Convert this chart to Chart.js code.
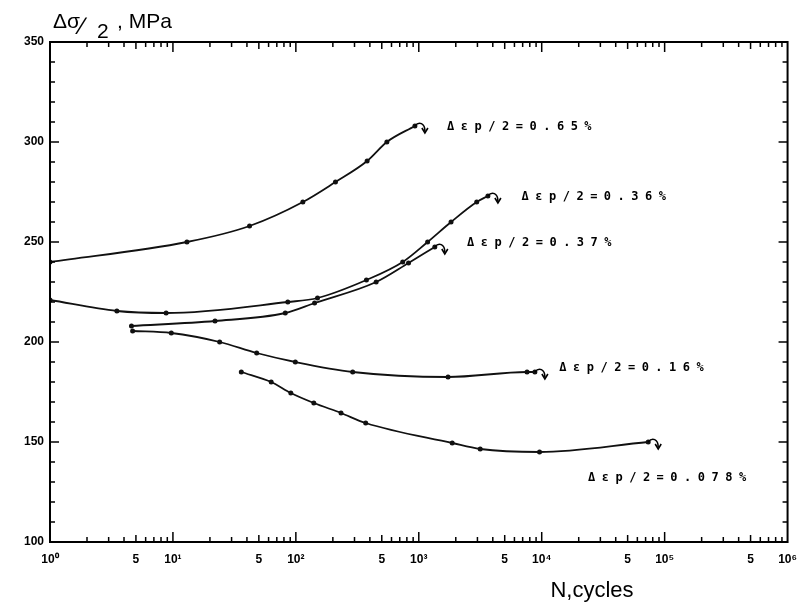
<!DOCTYPE html>
<html>
<head>
<meta charset="utf-8">
<script src="https://cdn.jsdelivr.net/npm/chart.js@4/dist/chart.umd.min.js"></script>
<style>
  html, body { margin: 0; padding: 0; background: #fff; }
  #wrap { width: 807px; height: 608px; }
</style>
</head>
<body>
<div id="wrap"><canvas id="chart" width="807" height="608"></canvas></div>
<script>
// cyclic stress amplitude vs number of cycles, one curve per plastic strain amplitude
const cycles065 = [1, 13, 42, 114, 210, 380, 550, 930];
const stress065 = [240, 250, 258, 270, 280, 290.5, 300, 308];

const cycles036 = [1, 3.5, 8.8, 86, 150, 375, 740, 1180, 1830, 2960, 3650];
const stress036 = [221, 215.5, 214.5, 220, 222, 231, 240, 250, 260, 270, 273];

const cycles037 = [4.6, 22, 82, 142, 450, 825, 1350];
const stress037 = [208, 210.5, 214.5, 219.5, 230, 239.5, 247.5];

const cycles016 = [4.7, 9.7, 24, 48, 99, 290, 1730, 7600, 8800];
const stress016 = [205.5, 204.5, 200, 194.5, 190, 185, 182.5, 185, 185];

const cycles0078 = [36, 63, 91, 140, 233, 370, 1870, 3160, 9600, 73500];
const stress0078 = [185, 180, 174.5, 169.5, 164.5, 159.5, 149.5, 146.5, 145, 150];

const curveLabels = ['Δεp/2=0.65%', 'Δεp/2=0.36%', 'Δεp/2=0.37%', 'Δεp/2=0.16%', 'Δεp/2=0.078%'];
// where each label sits (cycles, MPa)
const labelCycles = [1700, 6850, 2470, 13900, 23800];
const labelStress = [307.5, 272.5, 249.5, 187, 132];

// axis ticks
const xTickValues = [1, 5, 10, 50, 100, 500, 1e3, 5e3, 1e4, 5e4, 1e5, 5e5, 1e6];
const xTickText = ['10⁰', '5', '10¹', '5', '10²', '5', '10³', '5', '10⁴', '5', '10⁵', '5', '10⁶'];
const yTickValues = [100, 150, 200, 250, 300, 350];

const series = [
  [cycles065, stress065],
  [cycles036, stress036],
  [cycles037, stress037],
  [cycles016, stress016],
  [cycles0078, stress0078]
];

const datasets = series.map(([n, s], i) => ({
  label: curveLabels[i],
  data: n.map((v, k) => ({ x: v, y: s[k] })),
  borderColor: '#111',
  backgroundColor: '#111',
  borderWidth: 1.8,
  pointRadius: 1.6,
  pointHoverRadius: 1.6,
  cubicInterpolationMode: 'monotone',
  fill: false
}));

function line(ctx, x1, y1, x2, y2) {
  ctx.beginPath(); ctx.moveTo(x1, y1); ctx.lineTo(x2, y2); ctx.stroke();
}

// box, inward ticks, end hooks and curve labels
const decorations = {
  id: 'decorations',
  afterDatasetsDraw(chart) {
    const { ctx, chartArea: a, scales: { x, y } } = chart;
    ctx.save();
    ctx.strokeStyle = '#000';
    ctx.lineWidth = 2;
    ctx.strokeRect(a.left, a.top, a.right - a.left, a.bottom - a.top);

    ctx.lineWidth = 1.5;
    for (let v = 100; v <= 350; v += 10) {
      const py = y.getPixelForValue(v);
      const len = v % 50 === 0 ? 9 : 5;
      line(ctx, a.left, py, a.left + len, py);
      line(ctx, a.right, py, a.right - len, py);
    }
    for (let d = 0; d < 6; d++) {
      for (let m = 1; m < 10; m++) {
        const px = x.getPixelForValue(m * Math.pow(10, d));
        const len = m === 1 ? 10 : (m === 5 ? 7 : 5);
        line(ctx, px, a.bottom, px, a.bottom - len);
        line(ctx, px, a.top, px, a.top + len);
      }
    }

    // little curl at the end of each curve (specimen failure)
    ctx.lineWidth = 1.6;
    chart.data.datasets.forEach(ds => {
      const last = ds.data[ds.data.length - 1];
      const ex = x.getPixelForValue(last.x), ey = y.getPixelForValue(last.y);
      ctx.beginPath();
      ctx.moveTo(ex, ey);
      ctx.bezierCurveTo(ex + 4, ey - 5, ex + 10, ey - 3, ex + 10, ey + 5);
      ctx.stroke();
      ctx.beginPath();
      ctx.moveTo(ex + 7, ey + 2);
      ctx.lineTo(ex + 10, ey + 7);
      ctx.lineTo(ex + 13, ey + 2);
      ctx.stroke();
    });

    ctx.fillStyle = '#000';
    ctx.font = 'bold 12px "DejaVu Sans Mono"';
    ctx.letterSpacing = '6.5px';
    ctx.textBaseline = 'middle';
    ctx.textAlign = 'left';
    curveLabels.forEach((t, i) => {
      ctx.fillText(t, x.getPixelForValue(labelCycles[i]), y.getPixelForValue(labelStress[i]));
    });
    ctx.letterSpacing = '0px';

    // axis titles
    ctx.textBaseline = 'alphabetic';
    ctx.font = '21px "Liberation Sans"';
    ctx.fillText('Δσ', 53, 28);
    ctx.font = '24px "Liberation Sans"';
    ctx.fillText('∕', 80, 34);
    ctx.font = '21px "Liberation Sans"';
    ctx.fillText('2', 97, 38);
    ctx.fillText(', MPa', 117, 28);

    ctx.font = '22px "Liberation Sans"';
    ctx.textAlign = 'center';
    ctx.fillText('N,cycles', 592, 597);
    ctx.restore();
  }
};

new Chart(document.getElementById('chart'), {
  type: 'line',
  data: { datasets },
  options: {
    responsive: false,
    animation: false,
    devicePixelRatio: 1,
    layout: { padding: { top: 42, right: 14, left: 0, bottom: 0 } },
    plugins: { legend: { display: false }, tooltip: { enabled: false } },
    scales: {
      x: {
        type: 'logarithmic',
        min: 1,
        max: 1e6,
        grid: { display: false, drawTicks: false },
        border: { display: false },
        afterBuildTicks: scale => { scale.ticks = xTickValues.map(v => ({ value: v })); },
        afterFit: scale => { scale.height = 66; },
        ticks: {
          autoSkip: false,
          maxRotation: 0,
          padding: 10,
          color: '#000',
          font: { family: 'Liberation Sans', weight: 'bold', size: 12 },
          callback: v => xTickText[xTickValues.indexOf(v)] ?? ''
        }
      },
      y: {
        min: 100,
        max: 350,
        grid: { display: false, drawTicks: false },
        border: { display: false },
        afterBuildTicks: scale => { scale.ticks = yTickValues.map(v => ({ value: v })); },
        afterFit: scale => { scale.width = 50; },
        ticks: {
          padding: 6,
          color: '#000',
          font: { family: 'Liberation Sans', weight: 'bold', size: 12 }
        }
      }
    }
  },
  plugins: [decorations]
});
</script>
</body>
</html>
